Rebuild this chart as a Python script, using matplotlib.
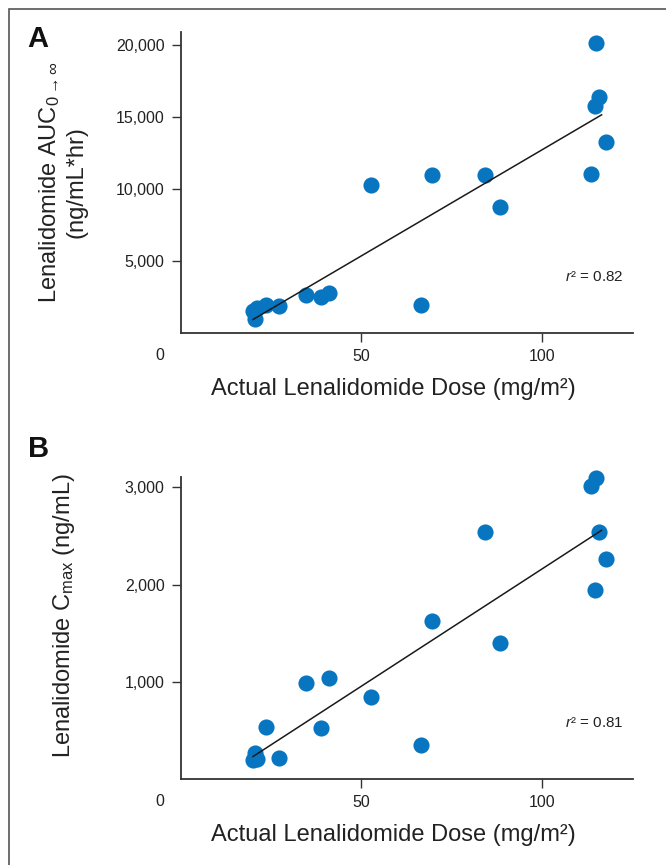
import numpy as np
import matplotlib
matplotlib.use('Agg')
import matplotlib.pyplot as plt
from matplotlib.patches import Rectangle

plt.rcParams['font.family'] = ['Liberation Sans', 'DejaVu Sans']
plt.rcParams['mathtext.fontset'] = 'custom'
plt.rcParams['mathtext.rm'] = 'Liberation Sans'
plt.rcParams['mathtext.it'] = 'Liberation Sans:italic'

# Datos
dose = [20.0, 20.5, 21.1, 23.7, 27.3, 34.7, 38.8, 41.1, 52.6, 66.4,
        69.5, 84.1, 88.4, 113.5, 114.5, 114.8, 115.7, 117.6]
auc = [1542, 1017, 1750, 1936, 1888, 2676, 2511, 2766, 10305, 1957,
       10948, 10948, 8762, 11045, 15768, 20105, 16370, 13230]
cmax = [196, 271, 213, 533, 217, 987, 523, 1038, 849, 354,
        1629, 2540, 1405, 3014, 1941, 3093, 2540, 2268]

auc_ticks = [5000, 10000, 15000, 20000]
cmax_ticks = [1000, 2000, 3000]
dose_ticks = [50, 100]
r2_a = '0.82'
r2_b = '0.81'

azul = '#0775bf'
gris = '#333333'
texto = '#222222'

fig = plt.figure(figsize=(6.66, 8.65), dpi=100)
ax1 = fig.add_axes([0.2713, 0.6147, 0.6787, 0.3487])
ax2 = fig.add_axes([0.2713, 0.0991, 0.6787, 0.3498])


def panel(ax, y, yticks, ymax, r2, ylabel, ylab_x, ylab_y):
    x = np.array(dose)
    y = np.array(y)
    ax.scatter(x, y, s=135, color=azul, linewidths=0, zorder=3, clip_on=False)
    # recta de regresion
    m, b = np.polyfit(x, y, 1)
    xs = np.array([x.min(), x.max() - 1.2])
    ax.plot(xs, m * xs + b, color='#1a1a1a', lw=1.1, zorder=4)

    ax.set_xlim(0, 125)
    ax.set_ylim(0, ymax)
    ax.set_xticks(dose_ticks)
    ax.set_yticks(yticks)
    ax.set_yticklabels([f'{t:,}' for t in yticks])
    ax.tick_params(direction='out', length=6.5, width=1.0, color=gris,
                   labelsize=11.5, pad=5, labelcolor=texto)
    for s in ['top', 'right']:
        ax.spines[s].set_visible(False)
    for s in ['left', 'bottom']:
        ax.spines[s].set_color(gris)
        ax.spines[s].set_linewidth(1.3)

    ax.set_xlabel('Actual Lenalidomide Dose (mg/m²)', fontsize=17,
                  color=texto, labelpad=10)
    ax.xaxis.label.set_x(0.47)
    ax.set_ylabel(ylabel, fontsize=17, color=texto)
    ax.yaxis.set_label_coords(ylab_x, ylab_y)

    ax.annotate('0', xy=(0, 0), xycoords='axes fraction', xytext=(-15, -16),
                textcoords='offset points', ha='center', va='center',
                fontsize=11.5, color=texto)
    ax.text(0.98, 0.185, '$r$² = ' + r2, transform=ax.transAxes,
            ha='right', va='center', fontsize=11, color=texto)


panel(ax1, auc, auc_ticks, 20900, r2_a,
      'Lenalidomide AUC$_{0{\\rightarrow}\\infty}$\n(ng/mL*hr)', -0.207, 0.5)
panel(ax2, cmax, cmax_ticks, 3110, r2_b,
      'Lenalidomide C$_{\\mathrm{max}}$ (ng/mL)', -0.229, 0.54)

# letras de los paneles
fig.text(38 / 666, 1 - 39 / 865, 'A', ha='center', va='center',
         fontsize=21, fontweight='bold', color='#111111')
fig.text(39 / 666, 1 - 449 / 865, 'B', ha='center', va='center',
         fontsize=21, fontweight='bold', color='#111111')

# marco exterior
fig.patches.append(Rectangle((9 / 666, -0.1), 1.2, 1.1 - 9 / 865,
                             transform=fig.transFigure, fill=False,
                             edgecolor='#555555', lw=1.2))

plt.savefig('out.png', dpi=100)
